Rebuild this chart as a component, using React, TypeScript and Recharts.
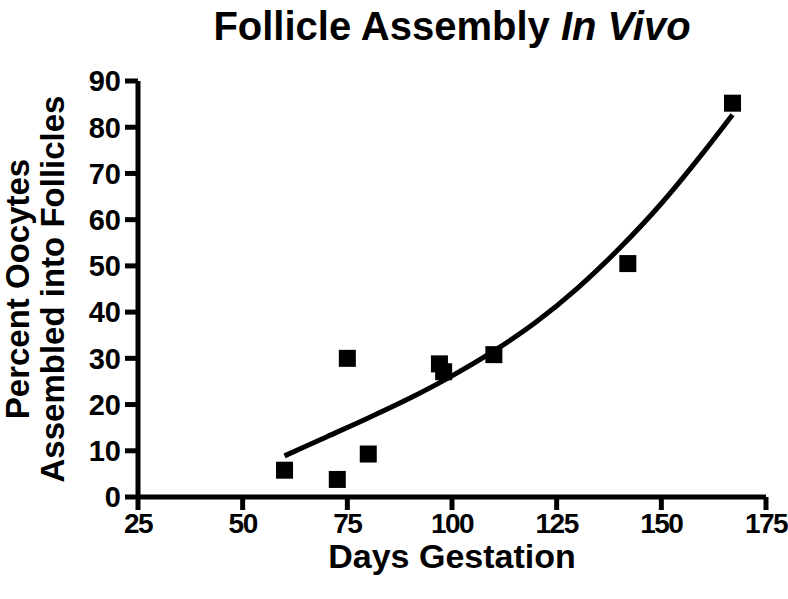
import { ComposedChart, Scatter, Line, XAxis, YAxis, Label } from "recharts";

const FONT = '"Liberation Sans", Arial, Helvetica, sans-serif';

// axis ticks
const dayTicks = [25, 50, 75, 100, 125, 150, 175];
const pctTicks = [0, 10, 20, 30, 40, 50, 60, 70, 80, 90];

// observed points (days of gestation, % oocytes in follicles)
const obsDays = [60, 72.6, 75, 80, 97, 98, 110, 142, 167];
const obsPct = [5.8, 3.8, 30, 9.3, 28.8, 27.1, 30.8, 50.5, 85.2];

// fitted curve
const fitDays = [60, 70, 80, 90, 100, 110, 120, 130, 140, 150, 160, 167];
const fitPct = [8.9, 13.0, 17.1, 21.4, 26.2, 31.6, 37.8, 45.2, 53.8, 63.5, 74.5, 82.7];

const observed = obsDays.map((d, i) => ({ day: d, pct: obsPct[i] }));
const fitted = fitDays.map((d, i) => ({ day: d, fit: fitPct[i] }));

function SquareDot(props: any) {
  const { cx, cy } = props;
  if (cx == null || cy == null) return null;
  return <rect x={cx - 8.5} y={cy - 8.5} width={17} height={17} fill="#000" />;
}

function YTitle({ viewBox }: any) {
  const cy = viewBox.y + viewBox.height / 2;
  const style = { fontFamily: FONT, fontSize: 33, fontWeight: 700, fill: "#000" };
  return (
    <g>
      <text x={29} y={cy} transform={`rotate(-90 29 ${cy})`} textAnchor="middle" style={style}>
        Percent Oocytes
      </text>
      <text x={64} y={cy} transform={`rotate(-90 64 ${cy})`} textAnchor="middle" style={style}>
        Assembled into Follicles
      </text>
    </g>
  );
}

function XTitle({ viewBox }: any) {
  return (
    <text
      x={viewBox.x + viewBox.width / 2}
      y={viewBox.y + 71}
      textAnchor="middle"
      style={{ fontFamily: FONT, fontSize: 34, fontWeight: 700, fill: "#000" }}
    >
      Days Gestation
    </text>
  );
}

const yTickStyle = { fontFamily: FONT, fontSize: 29, fontWeight: 700, fill: "#000" };
const xTickStyle = { ...yTickStyle, fontSize: 28, letterSpacing: -1.5 };
const lineStyle = { stroke: "#000", strokeWidth: 5 };

export default function App() {
  return (
    <div style={{ position: "absolute", left: 0, top: 0, width: 788, height: 599, background: "#fff" }}>
      <div
        style={{
          position: "absolute",
          left: 138,
          width: 628,
          top: 2,
          textAlign: "center",
          fontFamily: FONT,
          fontSize: 40,
          fontWeight: 700,
          color: "#000",
          lineHeight: "48px",
        }}
      >
        Follicle Assembly <i>In Vivo</i>
      </div>
      <ComposedChart width={788} height={599} margin={{ top: 81, right: 22, left: 0, bottom: 0 }}>
        <XAxis
          dataKey="day"
          type="number"
          domain={[25, 175]}
          ticks={dayTicks}
          height={102}
          tick={xTickStyle}
          tickSize={13}
          tickMargin={3}
          axisLine={lineStyle}
          tickLine={lineStyle}
        >
          <Label content={<XTitle />} />
        </XAxis>
        <YAxis
          type="number"
          domain={[0, 90]}
          ticks={pctTicks}
          width={138}
          tick={yTickStyle}
          tickSize={13}
          tickMargin={4}
          axisLine={lineStyle}
          tickLine={lineStyle}
        >
          <Label content={<YTitle />} />
        </YAxis>
        <Line
          data={fitted}
          dataKey="fit"
          type="monotone"
          stroke="#000"
          strokeWidth={5}
          dot={false}
          activeDot={false}
          isAnimationActive={false}
        />
        <Scatter data={observed} dataKey="pct" fill="#000" shape={<SquareDot />} isAnimationActive={false} />
      </ComposedChart>
    </div>
  );
}
